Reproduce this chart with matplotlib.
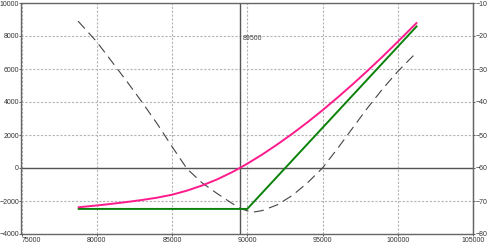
import matplotlib
matplotlib.use("Agg")
import matplotlib.pyplot as plt

# Data
pink_x = [78800, 80000, 81000, 82000, 83000, 84000, 85000, 86000, 87000, 88000, 89000, 89500,
          90000, 91000, 92000, 93000, 94000, 95000, 96000, 97000, 98000, 99000, 100000, 101240]
pink_y = [-2380, -2270, -2170, -2060, -1940, -1800, -1620, -1370, -1060, -690, -250, 0,
          260, 820, 1430, 2080, 2770, 3500, 4270, 5070, 5900, 6760, 7650, 8780]

green_x = [78800, 90000, 101250]
green_y = [-2480, -2480, 8580]

dash_x = [78760, 80000, 81000, 82000, 83000, 84000, 85000, 86000, 87000, 88000, 89000, 89500,
          90000, 90500, 91000, 92000, 93000, 94000, 95000, 96000, 97000, 98000, 99000, 100000, 101240]
dash_y = [8900, 7650, 6450, 5250, 4000, 2700, 1300, -50, -900, -1550, -2150, -2430,
          -2600, -2660, -2580, -2230, -1660, -900, 0, 1180, 2420, 3650, 4800, 5850, 7000]

marker_x = 89500
marker_label = "89500"

x_ticks = [75000, 80000, 85000, 90000, 95000, 100000, 105000]
y_ticks = [-4000, -2000, 0, 2000, 4000, 6000, 8000, 10000]
right_ticks = [-80, -70, -60, -50, -40, -30, -20, -10]

plt.rcParams['font.family'] = ['Liberation Sans', 'DejaVu Sans']

fig = plt.figure(figsize=(4.89, 2.5), dpi=100)
ax = fig.add_axes([21.5/489, 1-234/250, (473-21.5)/489, (234-3)/250])

ax.set_xlim(75000, 105000)
ax.set_ylim(-4000, 10000)
ax.set_xticks(x_ticks)
ax.set_yticks(y_ticks)
ax.grid(True, color="#b4b4b4", linestyle=(0, (2, 1.5)), linewidth=0.8)
ax.set_axisbelow(True)

ax.axhline(0, color="#555555", linewidth=1.0)
ax.axvline(marker_x, color="#555555", linewidth=1.0)
ax.text(marker_x + 200, 7850, marker_label, fontsize=5, color="#444444", va="center", ha="left")

ax.plot(dash_x, dash_y, color="#444444", linewidth=0.8, linestyle=(0, (9, 5)))
ax.plot(green_x, green_y, color="#0a820a", linewidth=1.4)
ax.plot(pink_x, pink_y, color="#ff1a8c", linewidth=1.4)

for s in ax.spines.values():
    s.set_color("#666666")
    s.set_linewidth(1.0)

ax.tick_params(axis="both", labelsize=5, colors="#444444", labelcolor="#333333", length=1.5, width=0.6, pad=0.3)
ax.tick_params(axis="x", pad=1)
xl = ax.get_xticklabels()
xl[0].set_horizontalalignment("left")

ax2 = ax.twinx()
ax2.set_ylim(-80, -10)
ax2.set_yticks(right_ticks)
ax2.spines["right"].set_color("#666666")
for k in ["left", "top", "bottom"]:
    ax2.spines[k].set_visible(False)
ax2.tick_params(axis="y", labelsize=5, labelcolor="#333333", colors="#444444", length=1.5, width=0.6, pad=0.3)

fig.savefig("out.png", dpi=100)
